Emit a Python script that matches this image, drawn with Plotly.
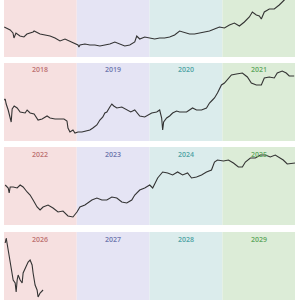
import plotly.graph_objects as go

# ---------------- data (arbitrary price units per row) ----------------
row_years = [[2014, 2015, 2016, 2017], [2018, 2019, 2020, 2021],
             [2022, 2023, 2024, 2025], [2026, 2027, 2028, 2029]]

dates_r1 = ["2014-01-02", "2014-02-01", "2014-02-15", "2014-02-20", "2014-03-02", "2014-03-22", "2014-04-11",
            "2014-04-26", "2014-05-27", "2014-06-01", "2014-07-01", "2014-07-26", "2014-08-20", "2014-09-14",
            "2014-10-09", "2014-11-03", "2014-11-28", "2014-12-23", "2015-01-07", "2015-01-12", "2015-01-17",
            "2015-02-11", "2015-03-08", "2015-04-02", "2015-04-27", "2015-05-22", "2015-06-16", "2015-07-11",
            "2015-08-05", "2015-08-30", "2015-09-24", "2015-10-19", "2015-10-29", "2015-11-13", "2015-12-08",
            "2016-01-02", "2016-01-27", "2016-02-21", "2016-03-17", "2016-04-11", "2016-05-06", "2016-05-31",
            "2016-06-15", "2016-06-25", "2016-07-20", "2016-08-14", "2016-09-08", "2016-10-03", "2016-10-28",
            "2016-11-22", "2016-12-17", "2017-01-11", "2017-02-05", "2017-03-02", "2017-03-27", "2017-04-21",
            "2017-05-16", "2017-05-31", "2017-06-20", "2017-07-05", "2017-07-15", "2017-07-30", "2017-08-24",
            "2017-09-18", "2017-10-13", "2017-11-07", "2017-12-02", "2017-12-27"]
values_r1 = [30, 27, 24, 19, 24, 21, 20,
             23, 25, 26, 23, 22, 21, 19,
             16, 18, 16, 14, 12, 10, 12,
             13, 12, 12, 11, 12, 13, 15,
             13, 11, 12, 15, 21, 18, 20,
             19, 18, 19, 19, 20, 22, 26,
             25, 24, 23, 23, 24, 25, 26,
             28, 30, 29, 32, 34, 31, 35,
             40, 45, 42, 41, 38, 45, 48,
             48, 52, 57, 62, 64]

dates_r2 = ["2018-01-02", "2018-01-07", "2018-01-12", "2018-01-22", "2018-02-06", "2018-02-11", "2018-02-21",
            "2018-03-08", "2018-03-23", "2018-04-17", "2018-04-27", "2018-05-12", "2018-06-01", "2018-06-21",
            "2018-07-11", "2018-08-05", "2018-08-20", "2018-09-14", "2018-10-09", "2018-10-29", "2018-11-13",
            "2018-11-18", "2018-11-28", "2018-12-13", "2018-12-23", "2019-01-07", "2019-01-27", "2019-02-16",
            "2019-03-08", "2019-03-23", "2019-04-12", "2019-04-27", "2019-05-12", "2019-05-22", "2019-06-01",
            "2019-06-16", "2019-06-26", "2019-07-06", "2019-07-21", "2019-08-15", "2019-09-09", "2019-09-29",
            "2019-10-19", "2019-11-13", "2019-12-08", "2019-12-28", "2020-01-12", "2020-02-06", "2020-02-21",
            "2020-03-02", "2020-03-07", "2020-03-12", "2020-03-27", "2020-04-11", "2020-04-26", "2020-05-16",
            "2020-05-31", "2020-07-05", "2020-08-04", "2020-08-24", "2020-09-18", "2020-10-13", "2020-10-28",
            "2020-11-12", "2020-11-22", "2020-12-07", "2020-12-27", "2021-01-11", "2021-01-26", "2021-02-15",
            "2021-03-12", "2021-04-11", "2021-05-06", "2021-05-26", "2021-06-20", "2021-07-15", "2021-07-30",
            "2021-08-24", "2021-09-18", "2021-10-03", "2021-10-28", "2021-11-17", "2021-12-02", "2021-12-27"]
values_r2 = [41, 42, 37, 31, 19, 32, 35,
             33, 29, 28, 31, 28, 27, 21,
             22, 25, 23, 22, 22, 22, 20,
             13, 9, 11, 8, 9, 9, 10,
             11, 13, 16, 21, 24, 28, 29,
             34, 37, 35, 33, 34, 31, 29,
             31, 25, 24, 26, 28, 29, 31,
             23, 11, 19, 23, 25, 28, 30,
             29, 29, 33, 31, 31, 33, 38,
             41, 43, 48, 56, 58, 61, 66,
             67, 68, 64, 58, 56, 56, 63,
             64, 63, 68, 70, 68, 65, 65]

dates_r3 = ["2022-01-07", "2022-01-22", "2022-01-27", "2022-02-01", "2022-02-16", "2022-03-08", "2022-03-23",
            "2022-04-07", "2022-04-27", "2022-05-12", "2022-05-27", "2022-06-16", "2022-07-01", "2022-07-16",
            "2022-08-10", "2022-09-04", "2022-09-29", "2022-10-24", "2022-11-18", "2022-12-13", "2023-01-02",
            "2023-01-17", "2023-02-11", "2023-02-26", "2023-03-18", "2023-04-12", "2023-05-07", "2023-06-01",
            "2023-06-26", "2023-07-21", "2023-08-15", "2023-09-09", "2023-10-04", "2023-10-19", "2023-11-13",
            "2023-12-08", "2024-01-02", "2024-01-17", "2024-02-11", "2024-03-07", "2024-04-01", "2024-04-26",
            "2024-05-21", "2024-06-15", "2024-07-10", "2024-07-30", "2024-08-24", "2024-09-18", "2024-10-13",
            "2024-11-07", "2024-11-22", "2024-12-07", "2025-01-06", "2025-01-31", "2025-02-25", "2025-03-22",
            "2025-04-11", "2025-04-26", "2025-05-21", "2025-06-15", "2025-07-10", "2025-08-04", "2025-08-29",
            "2025-09-23", "2025-10-18", "2025-11-02", "2025-11-22", "2025-12-17", "2025-12-31"]
values_r3 = [40, 37, 32, 38, 38, 37, 40,
             38, 33, 30, 25, 18, 15, 18,
             20, 17, 13, 14, 9, 8, 13,
             18, 20, 22, 25, 27, 25, 25,
             28, 27, 23, 22, 25, 30, 35,
             37, 40, 37, 47, 53, 52, 50,
             53, 50, 52, 47, 48, 50, 53,
             55, 63, 65, 64, 65, 62, 58,
             58, 63, 67, 67, 70, 70, 68,
             70, 67, 65, 61, 62, 62]

dates_r4 = ["2026-01-07", "2026-01-12", "2026-01-22", "2026-02-01", "2026-02-11", "2026-02-16", "2026-02-26",
            "2026-03-03", "2026-03-08", "2026-03-13", "2026-03-23", "2026-04-02", "2026-04-07", "2026-04-17",
            "2026-05-02", "2026-05-12", "2026-05-22", "2026-05-27", "2026-06-06", "2026-06-16", "2026-06-21",
            "2026-07-01", "2026-07-16"]
values_r4 = [67, 72, 60, 47, 37, 30, 27,
             18, 30, 35, 30, 27, 37, 42,
             48, 50, 45, 37, 25, 20, 13,
             17, 20]

# ---------------- style ----------------
band_colors = ["#f6e0e0", "#e5e4f4", "#dbecec", "#dcecd7"]
label_colors = ["#bd7171", "#6d76ad", "#4fa3a4", "#5ea65e"]
line_color = "#333333"

W = H = 300
x_dom = [4 / W, 295 / W]
# row pixel extents (top, bottom) and y ranges (value units)
row_px = [(0, 57), (63, 141), (147, 225), (232, 300)]
row_ranges = [[0, 57], [0, 78], [0, 78], [10, 78]]

series = [(dates_r1, values_r1), (dates_r2, values_r2), (dates_r3, values_r3), (dates_r4, values_r4)]

fig = go.Figure()
shapes, annotations = [], []
layout_axes = {}
for i, ((dts, vals), yrs) in enumerate(zip(series, row_years)):
    n = "" if i == 0 else str(i + 1)
    xa, ya = "x" + n, "y" + n
    fig.add_trace(go.Scatter(x=dts, y=vals, mode="lines", xaxis=xa, yaxis=ya,
                             line=dict(color=line_color, width=1.1), showlegend=False,
                             hoverinfo="skip"))
    top, bot = row_px[i]
    layout_axes["xaxis" + n] = dict(domain=x_dom, anchor=ya, type="date",
                                    range=[f"{yrs[0]}-01-01", f"{yrs[-1]}-12-31"],
                                    visible=False, showgrid=False, fixedrange=True)
    layout_axes["yaxis" + n] = dict(domain=[1 - bot / H, 1 - top / H], anchor=xa,
                                    range=row_ranges[i], visible=False, showgrid=False)
    for j, yr in enumerate(yrs):
        shapes.append(dict(type="rect", xref=xa, yref=ya + " domain",
                           x0=f"{yr}-01-01", x1=f"{yr + 1}-01-01" if j < 3 else f"{yr}-12-31",
                           y0=0, y1=1, fillcolor=band_colors[j], line_width=0, layer="below"))
        if i > 0:
            annotations.append(dict(xref=xa, yref=ya + " domain", x=f"{yr}-07-02", y=1,
                                    yanchor="middle", yshift=-7, text=str(yr), showarrow=False,
                                    font=dict(family="Open Sans", size=7, color=label_colors[j],
                                              weight=600)))

fig.update_layout(width=W, height=H, margin=dict(l=0, r=0, t=0, b=0),
                  paper_bgcolor="white", plot_bgcolor="rgba(0,0,0,0)",
                  shapes=shapes, annotations=annotations, **layout_axes)
fig.write_html("out.html")
